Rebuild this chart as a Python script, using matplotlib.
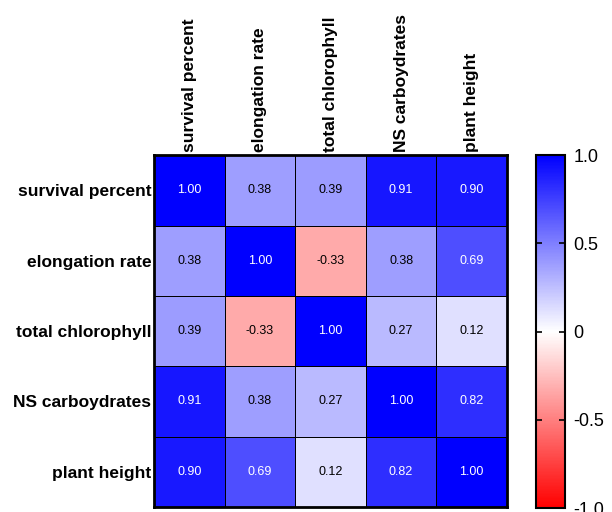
import numpy as np
import matplotlib.pyplot as plt
from matplotlib.colors import LinearSegmentedColormap

plt.rcParams['font.family'] = ['Liberation Sans', 'DejaVu Sans']

variables = ["survival percent", "elongation rate", "total chlorophyll",
             "NS carboydrates", "plant height"]
corr = np.array([
    [1.00, 0.38, 0.39, 0.91, 0.90],
    [0.38, 1.00, -0.33, 0.38, 0.69],
    [0.39, -0.33, 1.00, 0.27, 0.12],
    [0.91, 0.38, 0.27, 1.00, 0.82],
    [0.90, 0.69, 0.12, 0.82, 1.00],
])
cbar_ticks = [-1.0, -0.5, 0, 0.5, 1.0]
cbar_labels = ["-1.0", "-0.5", "0", "0.5", "1.0"]

cmap = LinearSegmentedColormap.from_list("rwb", ["#ff0000", "#ffffff", "#0000ff"])

fig = plt.figure(figsize=(6.12, 5.12), dpi=100)
ax = fig.add_axes([0.2516, 0.0098, 0.5768, 0.6872])
cax = fig.add_axes([0.876, 0.0078, 0.047, 0.6892])

n = len(variables)
im = ax.pcolormesh(np.arange(n + 1), np.arange(n + 1), corr, cmap=cmap,
                   vmin=-1, vmax=1, edgecolor="black", linewidth=0.7)
ax.set_xlim(0, n)
ax.set_ylim(n, 0)

for i in range(n):
    for j in range(n):
        v = corr[i, j]
        col = "white" if v > 0.6 else "black"
        ax.text(j + 0.5, i + 0.5, f"{v:.2f}", ha="center", va="center",
                fontsize=9, color=col)

ax.xaxis.tick_top()
ax.set_xticks(np.arange(n) + 0.5)
ax.set_xticklabels(variables, rotation=90, fontsize=12.5, fontweight="bold")
ax.set_yticks(np.arange(n) + 0.5)
ax.set_yticklabels(variables, fontsize=12.5, fontweight="bold")
ax.tick_params(length=0, pad=2)
for s in ax.spines.values():
    s.set_linewidth(2)

cb = fig.colorbar(im, cax=cax, ticks=cbar_ticks)
cb.ax.set_yticklabels(cbar_labels, fontsize=13)
cb.ax.tick_params(direction="in", length=4, width=1.2, left=True, right=True, pad=6)
cb.outline.set_linewidth(1.5)

fig.savefig("out.png", dpi=100)
